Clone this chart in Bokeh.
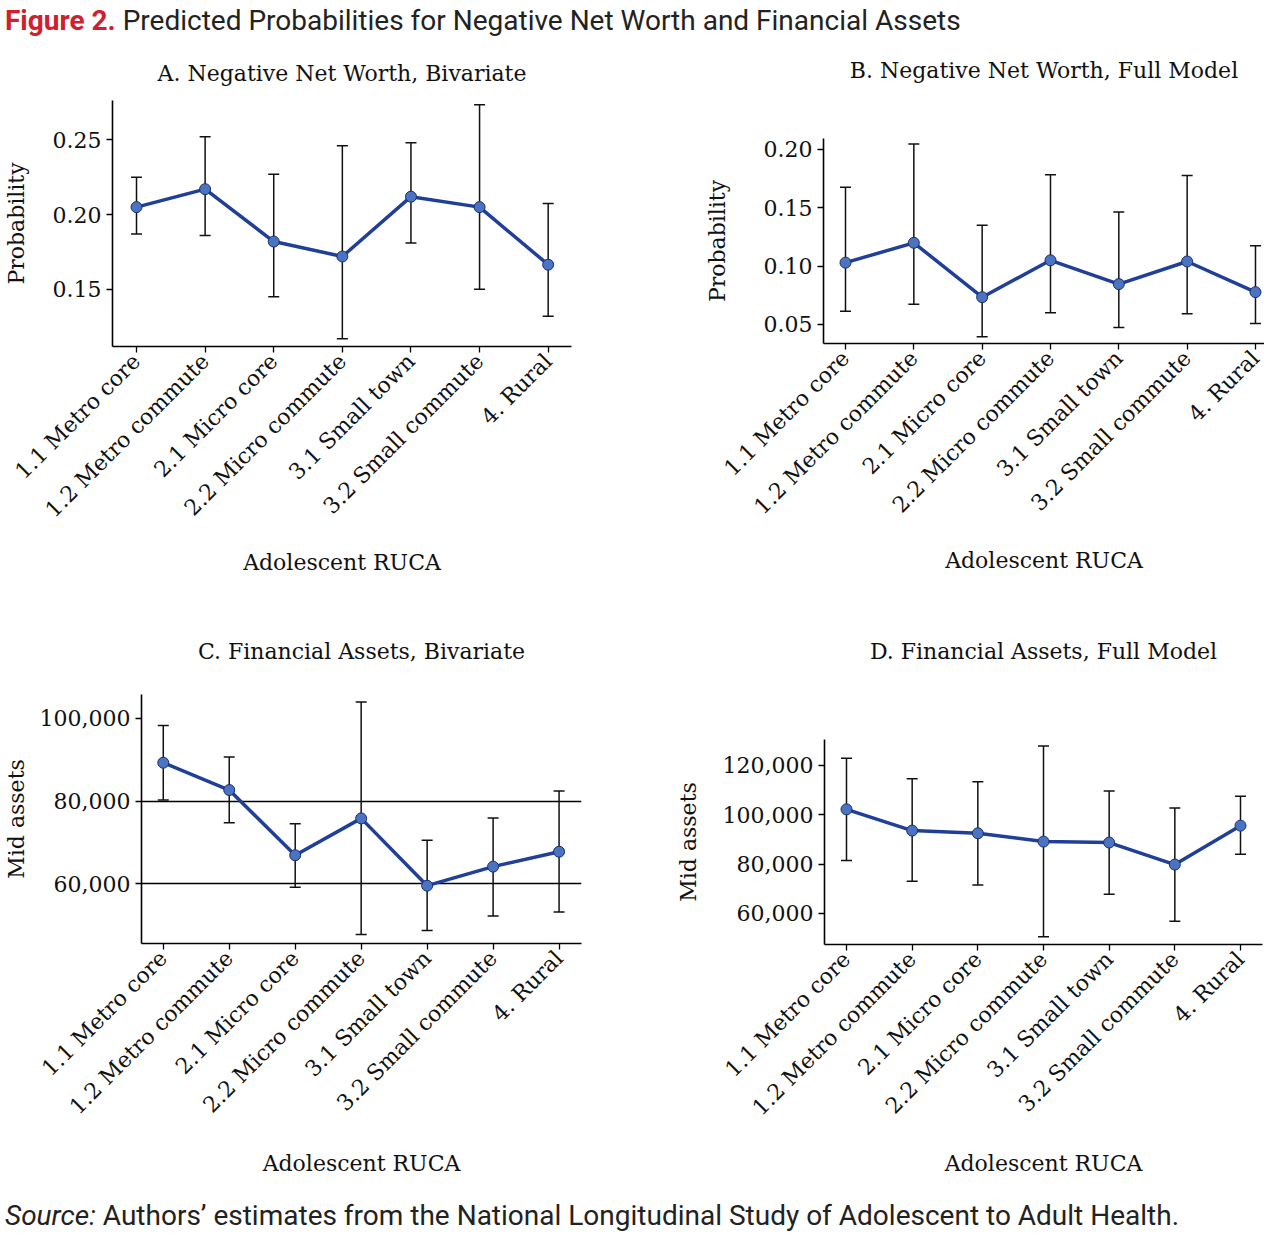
import math
from bokeh.plotting import figure
from bokeh.models import (ColumnDataSource, Range1d, FixedTicker, NumeralTickFormatter,
                          Whisker, TeeHead, Div)
from bokeh.layouts import column, row
from bokeh.embed import file_html
from bokeh.resources import INLINE

# ---------------- data ----------------
categories = ["1.1 Metro core", "1.2 Metro commute", "2.1 Micro core", "2.2 Micro commute",
              "3.1 Small town", "3.2 Small commute", "4. Rural"]

a_est = [0.205, 0.217, 0.182, 0.172, 0.212, 0.205, 0.1665]
a_lo = [0.187, 0.186, 0.145, 0.117, 0.181, 0.150, 0.132]
a_hi = [0.225, 0.252, 0.227, 0.246, 0.248, 0.2735, 0.2075]

b_est = [0.103, 0.120, 0.0734, 0.105, 0.0846, 0.104, 0.0777]
b_lo = [0.0614, 0.0674, 0.0394, 0.060, 0.0474, 0.0591, 0.0509]
b_hi = [0.1677, 0.2046, 0.1351, 0.1783, 0.1463, 0.1777, 0.1174]

c_est = [89250, 82650, 66900, 75800, 59550, 64150, 67750]
c_lo = [80250, 74750, 59150, 47750, 48700, 52250, 53200]
c_hi = [98250, 90600, 74500, 103900, 70500, 75900, 82400]

d_est = [102150, 93550, 92450, 89100, 88700, 79800, 95550]
d_lo = [81400, 73050, 71550, 50550, 67800, 56850, 83950]
d_hi = [122800, 114550, 113350, 127750, 109550, 102700, 107400]

a_yticks = [0.15, 0.20, 0.25]
b_yticks = [0.05, 0.10, 0.15, 0.20]
c_yticks = [60000, 80000, 100000]
d_yticks = [60000, 80000, 100000, 120000]
c_gridlines = [60000, 80000]

titles = ["A. Negative Net Worth, Bivariate", "B. Negative Net Worth, Full Model",
          "C. Financial Assets, Bivariate", "D. Financial Assets, Full Model"]
y_labels = ["Probability", "Probability", "Mid assets", "Mid assets"]
x_label = "Adolescent RUCA"
header_bold = "Figure 2."
header_rest = "Predicted Probabilities for Negative Net Worth and Financial Assets"
source_label = "Source:"
source_rest = "Authors\u2019 estimates from the National Longitudinal Study of Adolescent to Adult Health."

SERIF = "DejaVu Serif"
LINE = "#1f3f99"
FILL = "#4a73c2"
EDGE = "#1b2e6e"


def panel(title, ylab, est, lo, hi, yticks, yfmt, xr, yr, width, height,
          mb, title_pad, title_standoff, ylab_standoff, xlab_standoff, gridlines=None):
    xs = list(range(len(categories)))
    src = ColumnDataSource(dict(x=xs, est=est, lo=lo, hi=hi))
    p = figure(width=width, height=height, output_backend="svg", toolbar_location=None,
               x_range=Range1d(*xr), y_range=Range1d(*yr),
               min_border_left=mb[0], min_border_right=mb[1],
               min_border_top=mb[2], min_border_bottom=mb[3])
    p.frame_align = False
    p.outline_line_color = None
    p.background_fill_color = "white"
    p.border_fill_color = "white"
    p.title.text = title + "\n\u00a0" * title_pad
    p.title.align = "center"
    p.title.text_font = SERIF
    p.title.text_font_size = "22px"
    p.title.text_font_style = "normal"
    p.title.text_color = "#111111"
    p.title.standoff = title_standoff

    p.xgrid.visible = False
    if gridlines:
        p.ygrid.ticker = FixedTicker(ticks=gridlines)
        p.ygrid.grid_line_color = "black"
        p.ygrid.grid_line_width = 1.3
    else:
        p.ygrid.visible = False

    p.xaxis.ticker = FixedTicker(ticks=xs)
    p.xaxis.major_label_overrides = {i: c for i, c in enumerate(categories)}
    p.xaxis.major_label_orientation = math.pi / 4
    p.xaxis.axis_label = x_label
    p.xaxis.axis_label_standoff = xlab_standoff
    p.yaxis.ticker = FixedTicker(ticks=yticks)
    p.yaxis.formatter = NumeralTickFormatter(format=yfmt)
    p.yaxis.axis_label = ylab
    p.yaxis.axis_label_standoff = ylab_standoff
    for ax in (p.xaxis[0], p.yaxis[0]):
        ax.axis_line_color = "black"
        ax.axis_line_width = 1.6
        ax.major_tick_line_color = "black"
        ax.major_tick_line_width = 1.3
        ax.major_tick_out = 6
        ax.major_tick_in = 0
        ax.minor_tick_line_color = None
        ax.major_label_text_font = SERIF
        ax.major_label_text_font_size = "22px"
        ax.major_label_text_color = "#111111"
        ax.axis_label_text_font = SERIF
        ax.axis_label_text_font_size = "22px"
        ax.axis_label_text_font_style = "normal"
        ax.axis_label_text_color = "#111111"

    wh = Whisker(base="x", upper="hi", lower="lo", source=src,
                 line_color="#111111", line_width=1.5,
                 upper_head=TeeHead(size=11, line_color="#111111", line_width=1.5),
                 lower_head=TeeHead(size=11, line_color="#111111", line_width=1.5))
    p.add_layout(wh)
    p.line("x", "est", source=src, line_color=LINE, line_width=3.5)
    p.scatter("x", "est", source=src, size=11, fill_color=FILL, line_color=EDGE, line_width=1)
    return p


pa = panel(titles[0], y_labels[0], a_est, a_lo, a_hi, a_yticks, "0.00",
           (-0.35, 6.34), (0.1118, 0.2763), 672, 560, (108, 101, 58, 256), 0, 30, 21, 16)
pb = panel(titles[1], y_labels[1], b_est, b_lo, b_hi, b_yticks, "0.00",
           (-0.322, 6.132), (0.0337, 0.2094), 592, 560, (151, 0, 96, 259), 2, 11, 31, 17)
pc = panel(titles[2], y_labels[2], c_est, c_lo, c_hi, c_yticks, "0,0",
           (-0.33, 6.34), (45583, 105724), 672, 592, (138, 91, 92, 251), 0, 62, 8, 20,
           gridlines=c_gridlines)
pd_ = panel(titles[3], y_labels[3], d_est, d_lo, d_hi, d_yticks, "0,0",
            (-0.335, 6.335), (47457, 130398), 592, 592, (148, 2, 137, 250), 2, 51, 19, 19)

header = Div(text=f'<span style="color:#d0202e;font-weight:bold">{header_bold}</span> '
                  f'<span style="color:#222">{header_rest}</span>',
             width=1264, height=32,
             styles={"font-family": "Roboto", "font-size": "28px", "line-height": "32px",
                     "white-space": "nowrap"})
source = Div(text=f'<i>{source_label}</i> {source_rest}',
             width=1264, height=34,
             styles={"font-family": "Roboto", "font-size": "28px", "color": "#222",
                     "line-height": "34px", "white-space": "nowrap"})

layout = column(header, row(pa, pb), row(pc, pd_), source)
open("out.html", "w").write(file_html(layout, INLINE))
